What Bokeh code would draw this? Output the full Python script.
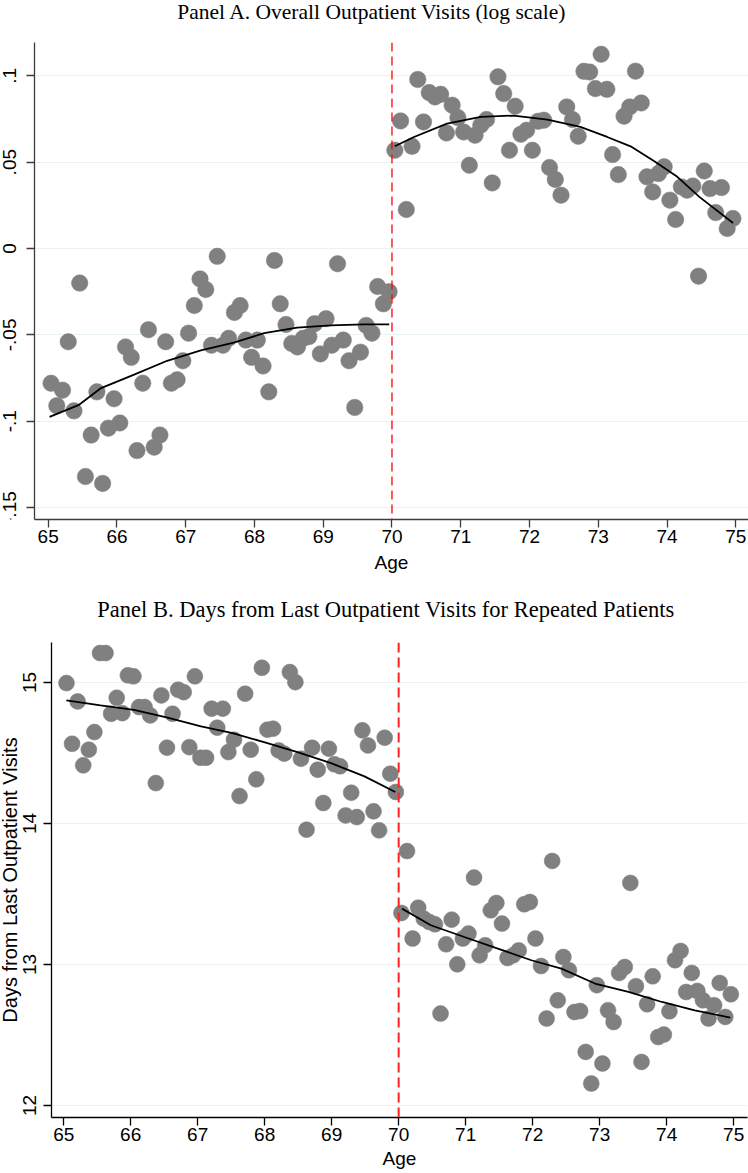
import numpy as np
from bokeh.plotting import figure
from bokeh.layouts import column, row
from bokeh.models import FixedTicker, Span, Range1d
from bokeh.core.properties import value
from bokeh.embed import file_html
from bokeh.resources import INLINE

# ---- bins (monthly, mid-month positions) ----
age_left = 65 + (np.arange(60) + 0.5) / 12
age_right = 70 + (np.arange(60) + 0.5) / 12

# ---- Panel A: Overall outpatient visits (log scale), residual means ----
visits_left = [-0.078, -0.091, -0.082, -0.054, -0.094, -0.020, -0.132, -0.108, -0.083, -0.136,
               -0.104, -0.087, -0.101, -0.057, -0.063, -0.117, -0.078, -0.047, -0.115, -0.108,
               -0.054, -0.078, -0.076, -0.065, -0.049, -0.033, -0.0176, -0.0237, -0.056, -0.0045,
               -0.056, -0.052, -0.037, -0.033, -0.053, -0.063, -0.053, -0.068, -0.083, -0.0069,
               -0.032, -0.044, -0.055, -0.057, -0.052, -0.051, -0.0435, -0.061, -0.0406, -0.056,
               -0.0088, -0.053, -0.065, -0.092, -0.060, -0.0445, -0.049, -0.022, -0.032, -0.025]
visits_right = [0.0569, 0.0739, 0.0226, 0.0592, 0.0979, 0.0733, 0.0903, 0.0878, 0.0893, 0.0669,
                0.083, 0.0758, 0.0675, 0.0482, 0.0656, 0.0714, 0.0747, 0.038, 0.0994, 0.0897,
                0.0569, 0.0824, 0.0662, 0.0685, 0.0569, 0.0737, 0.0743, 0.0469, 0.040, 0.0309,
                0.082, 0.0747, 0.065, 0.1026, 0.1022, 0.0926, 0.1125, 0.0922, 0.0544, 0.0428,
                0.0766, 0.082, 0.1027, 0.0843, 0.0415, 0.0328, 0.0434, 0.0473, 0.028, 0.0168,
                0.0357, 0.0338, 0.0362, -0.016, 0.0449, 0.0347, 0.0208, 0.0353, 0.0116, 0.0174]
fitA_left_age = [65.02, 65.44, 65.76, 66.25, 66.73, 67.22, 67.70, 68.14, 68.62, 69.11, 69.59, 69.96]
fitA_left_val = [-0.0975, -0.0907, -0.081, -0.073, -0.065, -0.059, -0.0545, -0.049, -0.0458,
                 -0.0445, -0.0439, -0.0439]
fitA_right_age = [70.04, 70.32, 70.80, 71.29, 71.77, 72.26, 72.74, 73.13, 73.47, 73.81, 74.15, 74.47, 74.96]
fitA_right_val = [0.0592, 0.0646, 0.0723, 0.0762, 0.077, 0.0747, 0.0704, 0.0646, 0.0592, 0.0507,
                  0.0415, 0.0299, 0.0148]
ticksA = [-0.15, -0.1, -0.05, 0.0, 0.05, 0.1]
tick_labelsA = ["-.15", "-.1", "-.05", "0", ".05", ".1"]
titleA = "Panel A. Overall Outpatient Visits (log scale)"

# ---- Panel B: days from last outpatient visit ----
days_left = [14.995, 14.565, 14.865, 14.412, 14.523, 14.648, 15.208, 15.208, 14.778, 14.891,
             14.782, 15.05, 15.043, 14.825, 14.825, 14.766, 14.286, 14.908, 14.537, 14.778,
             14.948, 14.931, 14.541, 15.043, 14.466, 14.466, 14.814, 14.679, 14.814, 14.506,
             14.594, 14.194, 14.92, 14.523, 14.313, 15.104, 14.665, 14.672, 14.518, 14.495,
             15.073, 15.002, 14.459, 13.956, 14.537, 14.381, 14.145, 14.53, 14.419, 14.405,
             14.057, 14.218, 14.045, 14.66, 14.553, 14.086, 13.951, 14.608, 14.353, 14.223]
days_right = [13.365, 13.804, 13.184, 13.403, 13.325, 13.301, 13.285, 12.652, 13.143, 13.318,
              13.001, 13.184, 13.219, 13.616, 13.065, 13.136, 13.384, 13.436, 13.29, 13.046,
              13.065, 13.1, 13.427, 13.443, 13.184, 12.989, 12.617, 13.734, 12.746, 13.053,
              12.959, 12.663, 12.67, 12.38, 12.156, 12.853, 12.298, 12.675, 12.592, 12.94,
              12.982, 13.578, 12.846, 12.309, 12.718, 12.916, 12.486, 12.503, 12.668, 13.03,
              13.096, 12.805, 12.94, 12.812, 12.746, 12.617, 12.711, 12.869, 12.628, 12.789]
fitB_left_age = [65.04, 65.55, 66.05, 66.55, 67.05, 67.52, 67.99, 68.49, 68.99, 69.49, 69.95]
fitB_left_val = [14.872, 14.837, 14.806, 14.75, 14.688, 14.64, 14.577, 14.506, 14.428, 14.334, 14.223]
fitB_right_age = [70.05, 70.48, 70.98, 71.48, 71.98, 72.43, 72.93, 73.43, 73.93, 74.42, 74.95]
fitB_right_val = [13.396, 13.278, 13.195, 13.113, 13.03, 12.971, 12.865, 12.805, 12.734, 12.675, 12.624]
ticksB = [12, 13, 14, 15]
tick_labelsB = ["12", "13", "14", "15"]
titleB = "Panel B. Days from Last Outpatient Visits for Repeated Patients"
ylabelB = "Days from Last Outpatient Visits"

age_ticks = list(range(65, 76))
cutoff = 70

SANS = "Liberation Sans"
SERIF = "Liberation Serif"
GRAY = "#808080"
GRID = "#eaf3f3"


def blank(width, height, x_range, y_range, top=0, bottom=0):
    """A figure without axes whose frame is used for free text."""
    f = figure(width=width, height=height, output_backend="svg", toolbar_location=None,
               x_range=x_range, y_range=y_range, x_axis_location=None, y_axis_location=None,
               min_border_left=0, min_border_right=0, min_border_top=top, min_border_bottom=bottom)
    f.grid.visible = False
    f.outline_line_color = None
    f.background_fill_color = "white"
    f.border_fill_color = "white"
    return f


def style(p, axis_color, ticks):
    p.outline_line_color = None
    p.background_fill_color = "white"
    p.border_fill_color = "white"
    p.xgrid.visible = False
    p.ygrid.grid_line_color = GRID
    p.ygrid.grid_line_width = 1
    p.xaxis.ticker = FixedTicker(ticks=age_ticks)
    p.yaxis.ticker = FixedTicker(ticks=ticks)
    for ax in (p.xaxis, p.yaxis):
        ax.axis_line_color = axis_color
        ax.axis_line_width = 1.3
        ax.major_tick_line_color = axis_color
        ax.major_tick_line_width = 1.3
        ax.major_tick_out = 8
        ax.major_tick_in = 0
        ax.minor_tick_line_color = None
        ax.major_label_text_font = SANS
        ax.major_label_text_font_size = "19px"
        ax.major_label_text_color = "black"
        ax.axis_label_text_font = SANS
        ax.axis_label_text_font_size = "19px"
        ax.axis_label_text_font_style = "normal"
        ax.axis_label_text_color = "black"
    p.xaxis.major_label_standoff = 2
    p.xaxis.axis_label = "Age"
    # y tick labels are drawn (rotated) in the narrow companion figure on the left
    p.yaxis.major_label_text_font_size = "0px"
    p.yaxis.major_label_standoff = 0
    p.yaxis.major_label_overrides = {t: "" for t in ticks}


def tick_text(f, x, ticks, labels):
    f.text(x=[x] * len(ticks), y=ticks, text=labels, angle=np.pi / 2,
           text_font=value(SANS), text_font_size=value("19px"), text_color="black",
           text_align="center", text_baseline="middle")


# ---------- Panel A ----------
HA, TOPA, BOTA = 558, 12, 69
pA = figure(width=722, height=HA, output_backend="svg", toolbar_location=None,
            x_range=Range1d(64.801, 75.185), y_range=Range1d(-0.1569, 0.1193),
            min_border_left=8, min_border_right=0, min_border_top=TOPA, min_border_bottom=BOTA)
style(pA, "#3c3c3c", ticksA)
pA.xaxis.axis_label_standoff = 6
pA.add_layout(Span(location=cutoff, dimension="height", line_color="#ff0000",
                   line_dash="9 5", line_width=1.3))
pA.scatter(age_left, visits_left, size=16.5, fill_color=GRAY, line_color=GRAY, line_width=0.5)
pA.scatter(age_right, visits_right, size=16.5, fill_color=GRAY, line_color=GRAY, line_width=0.5)
pA.line(fitA_left_age, fitA_left_val, line_color="black", line_width=1.8)
pA.line(fitA_right_age, fitA_right_val, line_color="black", line_width=1.8)

leftA = blank(26, HA, Range1d(0, 26), pA.y_range, top=TOPA, bottom=BOTA)
tick_text(leftA, 8.5, ticksA, tick_labelsA)

headA = blank(748, 30, Range1d(0, 748), Range1d(0, 30))
headA.text(x=[371.7], y=[18.5], text=[titleA], text_font=value(SERIF),
           text_font_size=value("21.5px"), text_color="black",
           text_align="center", text_baseline="alphabetic")

# ---------- Panel B ----------
HB, TOPB, BOTB = 545, 14, 56
pB = figure(width=705, height=HB, output_backend="svg", toolbar_location=None,
            x_range=Range1d(64.818, 75.207), y_range=Range1d(11.915, 15.283),
            min_border_left=8, min_border_right=1, min_border_top=TOPB, min_border_bottom=BOTB)
style(pB, "black", ticksB)
pB.xaxis.axis_label_standoff = 4
pB.add_layout(Span(location=cutoff, dimension="height", line_color="#ff2020",
                   line_dash="10 5", line_width=2))
pB.scatter(age_left, days_left, size=16, fill_color=GRAY, line_color=GRAY, line_width=0.5)
pB.scatter(age_right, days_right, size=16, fill_color=GRAY, line_color=GRAY, line_width=0.5)
pB.line(fitB_left_age, fitB_left_val, line_color="black", line_width=1.8)
pB.line(fitB_right_age, fitB_right_val, line_color="black", line_width=1.8)

leftB = blank(43, HB, Range1d(0, 43), pB.y_range, top=TOPB, bottom=BOTB)
tick_text(leftB, 28.5, ticksB, tick_labelsB)
mid_y = (pB.y_range.start + pB.y_range.end) / 2
leftB.text(x=[9.5], y=[mid_y], text=[ylabelB], angle=np.pi / 2,
           text_font=value(SANS), text_font_size=value("20px"), text_color="black",
           text_align="center", text_baseline="alphabetic")

headB = blank(748, 40, Range1d(0, 748), Range1d(0, 40))
headB.text(x=[385.5], y=[19], text=[titleB], text_font=value(SERIF),
           text_font_size=value("22.5px"), text_color="black",
           text_align="center", text_baseline="alphabetic")

layout = column(headA, row(leftA, pA, spacing=0), headB, row(leftB, pB, spacing=0), spacing=0)
open("out.html", "w").write(file_html(layout, INLINE, title="RD plots"))
